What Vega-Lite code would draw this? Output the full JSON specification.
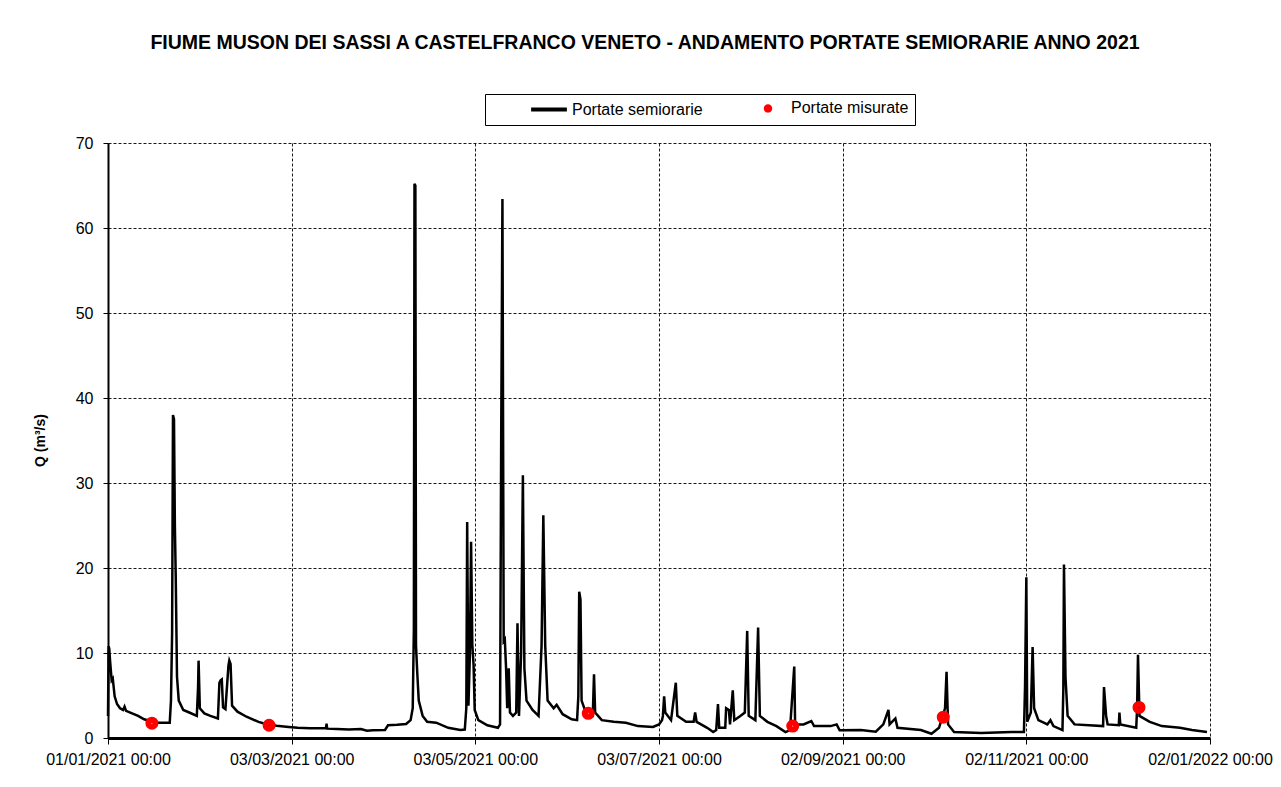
{
"$schema": "https://vega.github.io/schema/vega-lite/v6.json",
"width": 1102,
"height": 595,
"autosize": {"type": "none"},
"padding": {"left": 108, "top": 143, "right": 71, "bottom": 49},
"background": "white",
"config": {"font": "Liberation Sans", "view": {"stroke": null}},
"title": {"text": "FIUME MUSON DEI SASSI A CASTELFRANCO VENETO - ANDAMENTO PORTATE SEMIORARIE ANNO 2021", "frame": "group", "anchor": "middle", "dx": -14, "offset": 40, "fontSize": 19.5, "fontWeight": "bold", "color": "black", "font": "Liberation Sans"},
"datasets": {
"serie": [
{"t":"2021-01-01T00:00","q":2.6},{"t":"2021-01-01T05:00","q":10.8},{"t":"2021-01-01T10:00","q":10.5},{"t":"2021-01-01T17:00","q":9.0},{"t":"2021-01-02T05:00","q":6.8},{"t":"2021-01-02T14:00","q":7.0},{"t":"2021-01-03T05:00","q":4.9},{"t":"2021-01-04T00:00","q":4.0},{"t":"2021-01-05T00:00","q":3.5},{"t":"2021-01-06T00:00","q":3.3},{"t":"2021-01-06T12:00","q":3.7},{"t":"2021-01-07T00:00","q":3.2},{"t":"2021-01-09T00:00","q":2.9},{"t":"2021-01-11T00:00","q":2.6},{"t":"2021-01-13T00:00","q":2.2},{"t":"2021-01-15T00:00","q":2.0},{"t":"2021-01-17T00:00","q":1.8},{"t":"2021-01-19T00:00","q":1.8},{"t":"2021-01-21T12:00","q":1.8},{"t":"2021-01-21T22:00","q":4.4},{"t":"2021-01-22T07:00","q":12.3},{"t":"2021-01-22T14:00","q":38.0},{"t":"2021-01-22T22:00","q":37.5},{"t":"2021-01-23T05:00","q":25.0},{"t":"2021-01-23T12:00","q":18.9},{"t":"2021-01-23T22:00","q":7.2},{"t":"2021-01-24T12:00","q":4.4},{"t":"2021-01-26T00:00","q":3.3},{"t":"2021-01-28T00:00","q":3.0},{"t":"2021-01-30T12:00","q":2.6},{"t":"2021-01-30T22:00","q":6.0},{"t":"2021-01-31T02:00","q":9.1},{"t":"2021-01-31T12:00","q":3.5},{"t":"2021-02-02T00:00","q":2.9},{"t":"2021-02-04T00:00","q":2.6},{"t":"2021-02-06T12:00","q":2.3},{"t":"2021-02-07T00:00","q":6.5},{"t":"2021-02-07T10:00","q":6.8},{"t":"2021-02-07T19:00","q":6.9},{"t":"2021-02-08T05:00","q":3.6},{"t":"2021-02-09T00:00","q":3.4},{"t":"2021-02-10T00:00","q":8.5},{"t":"2021-02-10T07:00","q":9.1},{"t":"2021-02-10T17:00","q":8.7},{"t":"2021-02-11T05:00","q":3.8},{"t":"2021-02-13T00:00","q":3.1},{"t":"2021-02-16T00:00","q":2.5},{"t":"2021-02-20T00:00","q":1.9},{"t":"2021-02-23T00:00","q":1.6},{"t":"2021-02-26T00:00","q":1.45},{"t":"2021-03-02T00:00","q":1.3},{"t":"2021-03-05T00:00","q":1.2},{"t":"2021-03-09T00:00","q":1.15},{"t":"2021-03-14T10:00","q":1.15},{"t":"2021-03-14T14:00","q":1.7},{"t":"2021-03-14T19:00","q":1.1},{"t":"2021-03-18T00:00","q":1.05},{"t":"2021-03-22T00:00","q":1.0},{"t":"2021-03-26T00:00","q":1.05},{"t":"2021-03-28T00:00","q":0.85},{"t":"2021-03-30T00:00","q":0.9},{"t":"2021-04-03T00:00","q":0.95},{"t":"2021-04-04T00:00","q":1.5},{"t":"2021-04-07T00:00","q":1.55},{"t":"2021-04-10T00:00","q":1.65},{"t":"2021-04-11T12:00","q":2.1},{"t":"2021-04-12T05:00","q":3.5},{"t":"2021-04-12T14:00","q":12.8},{"t":"2021-04-12T19:00","q":65.2},{"t":"2021-04-13T02:00","q":65.0},{"t":"2021-04-13T07:00","q":10.9},{"t":"2021-04-13T17:00","q":7.7},{"t":"2021-04-14T05:00","q":4.4},{"t":"2021-04-15T12:00","q":2.6},{"t":"2021-04-17T00:00","q":1.9},{"t":"2021-04-20T00:00","q":1.8},{"t":"2021-04-24T00:00","q":1.2},{"t":"2021-04-28T00:00","q":0.95},{"t":"2021-04-29T12:00","q":1.0},{"t":"2021-04-30T00:00","q":3.5},{"t":"2021-04-30T07:00","q":25.4},{"t":"2021-04-30T17:00","q":3.8},{"t":"2021-05-01T05:00","q":10.0},{"t":"2021-05-01T14:00","q":23.1},{"t":"2021-05-02T00:00","q":11.0},{"t":"2021-05-02T10:00","q":8.6},{"t":"2021-05-02T19:00","q":3.3},{"t":"2021-05-04T00:00","q":2.1},{"t":"2021-05-07T00:00","q":1.5},{"t":"2021-05-10T12:00","q":1.2},{"t":"2021-05-11T05:00","q":1.6},{"t":"2021-05-11T14:00","q":35.0},{"t":"2021-05-12T00:00","q":63.4},{"t":"2021-05-12T10:00","q":11.4},{"t":"2021-05-12T19:00","q":11.6},{"t":"2021-05-13T05:00","q":8.2},{"t":"2021-05-13T14:00","q":3.5},{"t":"2021-05-14T02:00","q":8.2},{"t":"2021-05-14T12:00","q":3.0},{"t":"2021-05-15T12:00","q":2.6},{"t":"2021-05-16T14:00","q":3.0},{"t":"2021-05-17T00:00","q":13.5},{"t":"2021-05-17T12:00","q":2.6},{"t":"2021-05-18T05:00","q":10.0},{"t":"2021-05-18T19:00","q":30.9},{"t":"2021-05-19T07:00","q":8.2},{"t":"2021-05-20T00:00","q":4.4},{"t":"2021-05-22T00:00","q":3.3},{"t":"2021-05-24T00:00","q":2.6},{"t":"2021-05-25T00:00","q":10.9},{"t":"2021-05-25T14:00","q":26.2},{"t":"2021-05-26T05:00","q":10.9},{"t":"2021-05-27T00:00","q":4.4},{"t":"2021-05-29T00:00","q":3.5},{"t":"2021-05-30T00:00","q":3.9},{"t":"2021-06-01T00:00","q":2.8},{"t":"2021-06-04T00:00","q":2.2},{"t":"2021-06-05T19:00","q":2.1},{"t":"2021-06-06T05:00","q":4.9},{"t":"2021-06-06T12:00","q":17.2},{"t":"2021-06-06T22:00","q":16.3},{"t":"2021-06-07T07:00","q":4.4},{"t":"2021-06-09T00:00","q":2.7},{"t":"2021-06-11T00:00","q":2.6},{"t":"2021-06-11T10:00","q":7.5},{"t":"2021-06-11T19:00","q":3.0},{"t":"2021-06-14T00:00","q":2.1},{"t":"2021-06-18T00:00","q":1.9},{"t":"2021-06-22T00:00","q":1.8},{"t":"2021-06-26T00:00","q":1.4},{"t":"2021-07-01T00:00","q":1.3},{"t":"2021-07-03T00:00","q":1.6},{"t":"2021-07-04T00:00","q":2.1},{"t":"2021-07-04T07:00","q":2.6},{"t":"2021-07-04T17:00","q":4.9},{"t":"2021-07-05T02:00","q":3.0},{"t":"2021-07-07T00:00","q":2.1},{"t":"2021-07-08T14:00","q":6.5},{"t":"2021-07-09T02:00","q":2.6},{"t":"2021-07-12T00:00","q":1.9},{"t":"2021-07-14T12:00","q":1.9},{"t":"2021-07-15T00:00","q":3.0},{"t":"2021-07-15T12:00","q":1.9},{"t":"2021-07-19T00:00","q":1.2},{"t":"2021-07-21T00:00","q":0.7},{"t":"2021-07-22T00:00","q":0.93},{"t":"2021-07-22T14:00","q":4.0},{"t":"2021-07-23T00:00","q":1.2},{"t":"2021-07-25T00:00","q":1.2},{"t":"2021-07-25T07:00","q":3.5},{"t":"2021-07-26T05:00","q":3.3},{"t":"2021-07-26T14:00","q":1.6},{"t":"2021-07-27T12:00","q":5.6},{"t":"2021-07-28T00:00","q":2.1},{"t":"2021-07-30T00:00","q":2.6},{"t":"2021-07-31T12:00","q":3.0},{"t":"2021-08-01T07:00","q":12.6},{"t":"2021-08-01T19:00","q":2.6},{"t":"2021-08-04T00:00","q":2.1},{"t":"2021-08-04T22:00","q":13.0},{"t":"2021-08-05T12:00","q":2.6},{"t":"2021-08-08T00:00","q":1.9},{"t":"2021-08-11T00:00","q":1.4},{"t":"2021-08-14T00:00","q":0.7},{"t":"2021-08-15T12:00","q":0.93},{"t":"2021-08-16T22:00","q":8.4},{"t":"2021-08-17T05:00","q":1.6},{"t":"2021-08-20T00:00","q":1.6},{"t":"2021-08-22T14:00","q":2.0},{"t":"2021-08-23T12:00","q":1.4},{"t":"2021-08-29T00:00","q":1.4},{"t":"2021-08-31T00:00","q":1.6},{"t":"2021-09-01T00:00","q":0.9},{"t":"2021-09-08T00:00","q":0.95},{"t":"2021-09-13T00:00","q":0.75},{"t":"2021-09-15T12:00","q":1.6},{"t":"2021-09-17T05:00","q":3.3},{"t":"2021-09-17T14:00","q":1.6},{"t":"2021-09-19T12:00","q":2.3},{"t":"2021-09-20T05:00","q":1.2},{"t":"2021-09-28T00:00","q":0.93},{"t":"2021-10-01T12:00","q":0.5},{"t":"2021-10-04T00:00","q":1.2},{"t":"2021-10-06T00:00","q":3.5},{"t":"2021-10-06T12:00","q":7.8},{"t":"2021-10-07T00:00","q":1.6},{"t":"2021-10-09T00:00","q":0.7},{"t":"2021-10-18T00:00","q":0.6},{"t":"2021-10-28T00:00","q":0.7},{"t":"2021-11-01T05:00","q":0.7},{"t":"2021-11-01T14:00","q":6.3},{"t":"2021-11-02T00:00","q":18.9},{"t":"2021-11-02T07:00","q":1.9},{"t":"2021-11-03T12:00","q":3.0},{"t":"2021-11-04T02:00","q":10.7},{"t":"2021-11-04T14:00","q":3.5},{"t":"2021-11-06T00:00","q":2.1},{"t":"2021-11-09T00:00","q":1.6},{"t":"2021-11-10T00:00","q":2.1},{"t":"2021-11-11T00:00","q":1.4},{"t":"2021-11-14T00:00","q":0.93},{"t":"2021-11-14T07:00","q":5.8},{"t":"2021-11-14T12:00","q":20.4},{"t":"2021-11-15T00:00","q":7.2},{"t":"2021-11-15T17:00","q":2.6},{"t":"2021-11-18T00:00","q":1.6},{"t":"2021-11-27T12:00","q":1.4},{"t":"2021-11-27T19:00","q":6.0},{"t":"2021-11-28T12:00","q":2.6},{"t":"2021-11-29T00:00","q":1.6},{"t":"2021-12-02T17:00","q":1.5},{"t":"2021-12-02T22:00","q":3.0},{"t":"2021-12-03T05:00","q":1.6},{"t":"2021-12-08T12:00","q":1.2},{"t":"2021-12-08T19:00","q":3.5},{"t":"2021-12-09T02:00","q":9.8},{"t":"2021-12-09T14:00","q":2.6},{"t":"2021-12-13T00:00","q":1.9},{"t":"2021-12-17T00:00","q":1.4},{"t":"2021-12-23T00:00","q":1.2},{"t":"2021-12-27T00:00","q":0.93},{"t":"2022-01-01T00:00","q":0.7}
],
"misure": [
{"t":"2021-01-15T14:00","q":1.75,"serie":"Portate misurate"},{"t":"2021-02-23T12:00","q":1.5,"serie":"Portate misurate"},{"t":"2021-06-09T12:00","q":2.9,"serie":"Portate misurate"},{"t":"2021-08-16T10:00","q":1.4,"serie":"Portate misurate"},{"t":"2021-10-05T10:00","q":2.45,"serie":"Portate misurate"},{"t":"2021-12-09T10:00","q":3.6,"serie":"Portate misurate"}
]
},
"layer": [
{
"data": {"name": "serie"},
"mark": {"type": "line", "color": "black", "strokeWidth": 2.5, "strokeJoin": "miter"},
"encoding": {
"x": {"field": "t", "type": "temporal",
 "scale": {"domain": [{"year": 2021, "month": 1, "date": 1}, {"year": 2022, "month": 1, "date": 2}]},
 "axis": {"title": null, "values": [{"year": 2021, "month": 1, "date": 1}, {"year": 2021, "month": 3, "date": 3}, {"year": 2021, "month": 5, "date": 3}, {"year": 2021, "month": 7, "date": 3}, {"year": 2021, "month": 9, "date": 2}, {"year": 2021, "month": 11, "date": 2}, {"year": 2022, "month": 1, "date": 2}],
  "format": "%d/%m/%Y %H:%M", "labelFontSize": 16, "labelColor": "black", "labelFont": "Liberation Sans", "labelFlush": false, "labelOverlap": false, "labelPadding": 7,
  "tickColor": "black", "tickSize": 6, "tickWidth": 1, "domainColor": "black", "domainWidth": 3,
  "grid": true, "gridColor": "black", "gridDash": [3, 2], "gridWidth": 1, "gridOpacity": 0.9}},
"y": {"field": "q", "type": "quantitative",
 "scale": {"domain": [0, 70], "nice": false},
 "axis": {"title": "Q (m³/s)", "values": [0, 10, 20, 30, 40, 50, 60, 70], "labelFontSize": 16, "labelColor": "black", "labelFont": "Liberation Sans", "labelPadding": 10,
  "tickColor": "black", "tickSize": 5, "domainColor": "black", "domainWidth": 2,
  "grid": true, "gridColor": "black", "gridDash": [3, 2], "gridWidth": 1, "gridOpacity": 0.9,
  "titleFontSize": 14, "titleFontWeight": "bold", "titleColor": "black", "titleFont": "Liberation Sans", "titleAngle": -90, "titleX": -68, "titleY": 297, "titleAlign": "center", "titleBaseline": "middle"}}
}
},
{
"data": {"name": "misure"},
"mark": {"type": "point", "filled": false, "size": 49, "strokeWidth": 6, "opacity": 1},
"encoding": {
"x": {"field": "t", "type": "temporal"},
"y": {"field": "q", "type": "quantitative"},
"color": {"field": "serie", "type": "nominal",
 "scale": {"domain": ["Portate semiorarie", "Portate misurate"], "range": ["black", "#ff0000"]},
 "legend": {"title": null, "orient": "none", "legendX": 377, "legendY": -49, "direction": "horizontal",
  "labelFontSize": 16, "labelFont": "Liberation Sans", "labelColor": "black", "symbolSize": 20, "symbolStrokeWidth": 4, "symbolOffset": 50, "labelOffset": 15, "columnPadding": 7,
  "padding": 6, "strokeColor": "black", "fillColor": "white"}},
"shape": {"field": "serie", "type": "nominal",
 "scale": {"domain": ["Portate semiorarie", "Portate misurate"], "range": ["M-8,0H8", "circle"]},
 "legend": {"title": null, "orient": "none", "legendX": 377, "legendY": -49, "direction": "horizontal",
  "labelFontSize": 16, "labelFont": "Liberation Sans", "labelColor": "black", "symbolSize": 20, "symbolStrokeWidth": 4, "symbolOffset": 50, "labelOffset": 15, "columnPadding": 7,
  "padding": 6, "strokeColor": "black", "fillColor": "white"}}
}
}
]
}
